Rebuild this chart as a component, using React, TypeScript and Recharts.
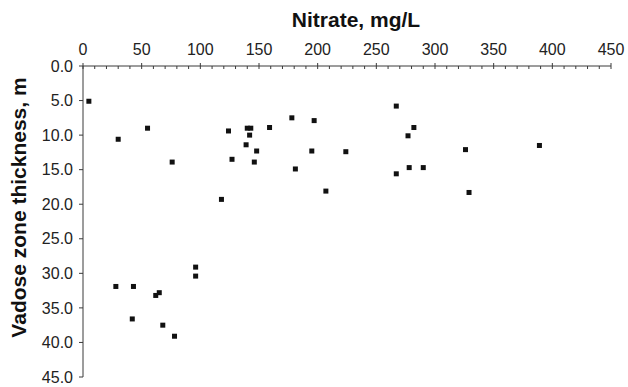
import React from 'react';
import { ScatterChart, Scatter, XAxis, YAxis } from 'recharts';

const nitrate = [5, 30, 55, 76, 124, 127, 118, 140, 143, 142, 139, 148, 146, 159, 178, 197, 181, 195, 207, 224, 267, 282, 277, 326, 389, 278, 290, 267, 329, 28, 43, 62, 65, 42, 68, 78, 96, 96];
const thickness = [5.1, 10.6, 9.0, 13.9, 9.4, 13.5, 19.3, 9.0, 9.0, 10.0, 11.4, 12.3, 13.9, 8.9, 7.5, 7.9, 14.9, 12.3, 18.1, 12.4, 5.8, 8.9, 10.1, 12.1, 11.5, 14.7, 14.7, 15.6, 18.3, 31.9, 31.9, 33.2, 32.8, 36.6, 37.5, 39.1, 29.1, 30.4];
const xTicks = [0, 10, 20, 30, 40, 50, 60, 70, 80, 90, 100, 110, 120, 130, 140, 150, 160, 170, 180, 190, 200, 210, 220, 230, 240, 250, 260, 270, 280, 290, 300, 310, 320, 330, 340, 350, 360, 370, 380, 390, 400, 410, 420, 430, 440, 450];
const yTicks = [0, 5, 10, 15, 20, 25, 30, 35, 40, 45];
const xTitle = 'Nitrate, mg/L';
const yTitle = 'Vadose zone thickness, m';

const data = nitrate.map((n, i) => ({ x: n, y: thickness[i] }));

const FONT = '"Liberation Sans", Arial, sans-serif';
const AXIS = '#3a3a3a';

const XTick = (props: any) => {
  const { x, y, payload } = props;
  const v = payload.value;
  const major = v % 50 === 0;
  return (
    <g>
      {major ? (
        <line x1={x} x2={x} y1={y - 3} y2={y + 3} stroke={AXIS} strokeWidth={1} />
      ) : (
        <line x1={x} x2={x} y1={y} y2={y + 3} stroke={AXIS} strokeWidth={1} />
      )}
      {major && (
        <text x={x} y={y - 11} textAnchor="middle" fontFamily={FONT} fontSize={16} fill="#222">
          {v}
        </text>
      )}
    </g>
  );
};

const XTitle = (props: any) => {
  const vb = props.viewBox || {};
  return (
    <text x={vb.x + vb.width / 2 + 9} y={27} textAnchor="middle" fontFamily={FONT} fontSize={21} fontWeight="bold" fill="#111">
      {xTitle}
    </text>
  );
};

const YTitle = (props: any) => {
  const vb = props.viewBox || {};
  const cy = vb.y + vb.height / 2 - 14;
  return (
    <text x={0} y={0} transform={`translate(26, ${cy}) rotate(-90)`} textAnchor="middle" fontFamily={FONT} fontSize={21} fontWeight="bold" fill="#111">
      {yTitle}
    </text>
  );
};

const Square = (props: any) => {
  const { cx, cy } = props;
  return <rect x={cx - 2.5} y={cy - 2.5} width={5} height={5} fill="#111" />;
};

export default function App() {
  return (
    <div style={{ position: 'absolute', left: 0, top: 0, background: '#fff' }}>
      <ScatterChart width={628} height={387} margin={{ top: 0, right: 17, bottom: 10, left: 0 }}>
        <XAxis
          type="number"
          dataKey="x"
          orientation="top"
          domain={[0, 450]}
          ticks={xTicks}
          interval={0}
          height={66}
          tickSize={0}
          tickMargin={0}
          tickLine={false}
          tick={<XTick />}
          axisLine={{ stroke: AXIS, strokeWidth: 1 }}
          label={<XTitle />}
        />
        <YAxis
          type="number"
          dataKey="y"
          reversed
          domain={[0, 45]}
          ticks={yTicks}
          interval={0}
          width={83}
          tickSize={4}
          tickMargin={6}
          tickLine={{ stroke: AXIS, strokeWidth: 1 }}
          axisLine={{ stroke: AXIS, strokeWidth: 1 }}
          tickFormatter={(v: number) => v.toFixed(1)}
          tick={{ fontFamily: FONT, fontSize: 16, fill: '#222' }}
          label={<YTitle />}
        />
        <Scatter data={data} shape={<Square />} isAnimationActive={false} />
      </ScatterChart>
    </div>
  );
}
